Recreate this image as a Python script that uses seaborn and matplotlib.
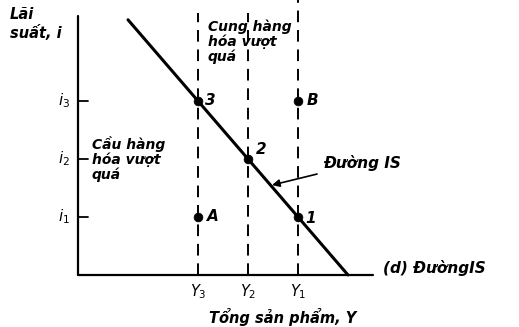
import numpy as np
import pandas as pd
import matplotlib
matplotlib.use("Agg")
import matplotlib.pyplot as plt
import seaborn as sns

# muc san luong va lai suat doc tu hinh
san_luong = [2.4, 3.4, 4.4]          # Y3, Y2, Y1
nhan_Y = ["$Y_3$", "$Y_2$", "$Y_1$"]
lai_suat = [1, 2, 3]                  # i1, i2, i3
nhan_i = ["$i_1$", "$i_2$", "$i_3$"]

# duong IS: hai dau mut
is_Y = [1.0, 5.4]
is_i = [4.4, 0.0]

# cac diem tren hinh
diem_ten = ["3", "2", "1", "A", "B"]
diem_Y = [2.4, 3.4, 4.4, 2.4, 4.4]
diem_i = [3, 2, 1, 1, 3]

sns.set_style("white")
plt.rcParams['font.family'] = ['DejaVu Sans']
plt.rcParams['mathtext.default'] = 'it'

fig = plt.figure(figsize=(5.19, 3.27), dpi=100)
ax = fig.add_axes([0, 0, 1, 1])
ax.set_xlim(-1.56, 8.82)
ax.set_ylim(-0.897, 4.741)
ax.axis("off")

chu = dict(fontstyle="italic", fontweight="bold", color="black")

# truc toa do
ax.plot([0, 0], [0, 4.47], color="black", lw=1.6)
ax.plot([0, 5.9], [0, 0], color="black", lw=1.6)

# duong dut doan
dinh = [4.52, 4.52, 4.74]
for y, top in zip(san_luong, dinh):
    ax.plot([y, y], [0, top], color="black", lw=1.4, ls=(0, (6, 4)))

# vach chia truc tung
for i, nh in zip(lai_suat, nhan_i):
    ax.plot([0, 0.2], [i, i], color="black", lw=1.3)
    ax.text(-0.16, i, nh, ha="right", va="center", fontsize=11, **chu)

for y, nh in zip(san_luong, nhan_Y):
    ax.text(y, -0.12, nh, ha="center", va="top", fontsize=10.5, **chu)

df_is = pd.DataFrame({"Y": is_Y, "i": is_i})
sns.lineplot(data=df_is, x="Y", y="i", ax=ax, color="black", lw=2.2)

df_d = pd.DataFrame({"Y": diem_Y, "i": diem_i, "ten": diem_ten})
sns.scatterplot(data=df_d, x="Y", y="i", ax=ax, color="black", s=40,
                edgecolor="black", zorder=5)
lech = {"3": (0.15, 0.0), "2": (0.15, 0.17), "1": (0.15, -0.03),
        "A": (0.17, 0.0), "B": (0.17, 0.0)}
for _, r in df_d.iterrows():
    dx, dy = lech[r["ten"]]
    ax.text(r["Y"] + dx, r["i"] + dy, r["ten"], ha="left", va="center",
            fontsize=11, **chu)

ax.set_xlabel("")
ax.set_ylabel("")

# chu thich
ax.text(-1.36, 4.62, "Lãi\nsuất, i", ha="left", va="top", fontsize=10.5,
        linespacing=1.2, **chu)
ax.text(2.6, 4.4, "Cung hàng\nhóa vượt\nquá", ha="left", va="top",
        fontsize=10, linespacing=1.05, **chu)
ax.text(0.28, 2.39, "Cầu hàng\nhóa vượt\nquá", ha="left", va="top",
        fontsize=10, linespacing=1.05, **chu)
ax.annotate("Đường IS", xy=(3.88, 1.55), xytext=(4.9, 1.93),
            ha="left", va="center", fontsize=11,
            arrowprops=dict(arrowstyle="-|>", color="black", lw=1.2,
                            shrinkA=2, shrinkB=0), **chu)
ax.text(6.1, 0.12, "(d) ĐườngIS", ha="left", va="center", fontsize=11, **chu)
ax.text(2.62, -0.72, "Tổng sản phẩm, Y", ha="left", va="center",
        fontsize=10.5, **chu)

fig.savefig("out.png", dpi=100)
